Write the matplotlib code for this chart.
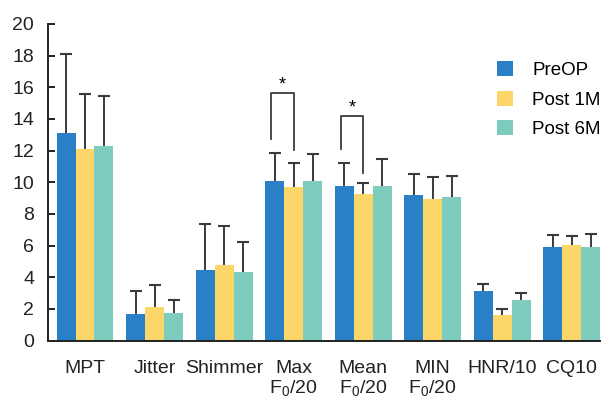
import numpy as np
import matplotlib.pyplot as plt

plt.rcParams['font.family'] = ['Liberation Sans', 'DejaVu Sans']
plt.rcParams['mathtext.default'] = 'regular'

# data
categories = ['MPT', 'Jitter', 'Shimmer', 'Max\nF$_0$/20', 'Mean\nF$_0$/20',
              'MIN\nF$_0$/20', 'HNR/10', 'CQ10']
series = ['PreOP', 'Post 1M', 'Post 6M']
pre_mean = [13.1, 1.67, 4.45, 10.08, 9.76, 9.19, 3.13, 5.90]
pre_top = [18.1, 3.13, 7.36, 11.82, 11.19, 10.50, 3.55, 6.64]
m1_mean = [12.1, 2.12, 4.77, 9.70, 9.25, 8.94, 1.61, 6.03]
m1_top = [15.55, 3.53, 7.21, 11.19, 9.95, 10.33, 2.01, 6.58]
m6_mean = [12.3, 1.74, 4.33, 10.08, 9.76, 9.07, 2.56, 5.90]
m6_top = [15.45, 2.54, 6.20, 11.80, 11.45, 10.42, 2.98, 6.71]

# significance brackets: (category index, bracket top, left leg bottom, right leg bottom)
sig = [(3, 15.62, 12.75, 12.03), (4, 14.16, 12.08, 10.56)]

colors = ['#2980C6', '#FDD66A', '#7DCCBD']

fig = plt.figure(figsize=(6.01, 3.97), dpi=100)
ax = fig.add_axes([48 / 601, 1 - 340.5 / 397, 1 - 48 / 601, (340.5 - 24) / 397])

x = np.arange(len(categories))
w = 0.273
means = [pre_mean, m1_mean, m6_mean]
tops = [pre_top, m1_top, m6_top]
for i in range(3):
    pos = x + (i - 1) * w
    # upper-only error bars: stem + cap
    ax.vlines(pos, means[i], tops[i], color='#3a3a3a', lw=1.4, zorder=1)
    ax.plot(pos, tops[i], ls='none', marker='_', ms=8, mew=1.5, color='#3a3a3a', zorder=1)
    ax.bar(pos, means[i], width=w, color=colors[i], label=series[i], zorder=2)

for k, top, lb, rb in sig:
    xl = k - w - 0.05
    xr = k
    ax.plot([xl, xl, xr, xr], [lb, top, top, rb], color='#3a3a3a', lw=1.3, zorder=3)
    ax.text((xl + xr) / 2, top + 0.55, '*', ha='center', va='center', fontsize=13)

ax.set_xlim(-0.532, 7.42)
ax.set_ylim(0, 20)
ax.set_yticks(range(0, 21, 2))
ax.set_xticks(x)
ax.set_xticklabels(categories, linespacing=1.1)
ax.tick_params(axis='x', length=0, pad=14, labelsize=14, colors='#222222')
ax.tick_params(axis='y', direction='in', length=5, width=1.4, pad=10, labelsize=14,
               colors='#222222')
for s in ['top', 'right']:
    ax.spines[s].set_visible(False)
for s in ['left', 'bottom']:
    ax.spines[s].set_linewidth(1.4)
    ax.spines[s].set_color('#222222')

ax.legend(loc='upper left', bbox_to_anchor=(0.789, 0.923), frameon=False, fontsize=13.5,
          handlelength=0.85, handleheight=0.85, handletextpad=1.0, labelspacing=0.6,
          borderaxespad=0.3)

fig.savefig('out.png', dpi=100)
